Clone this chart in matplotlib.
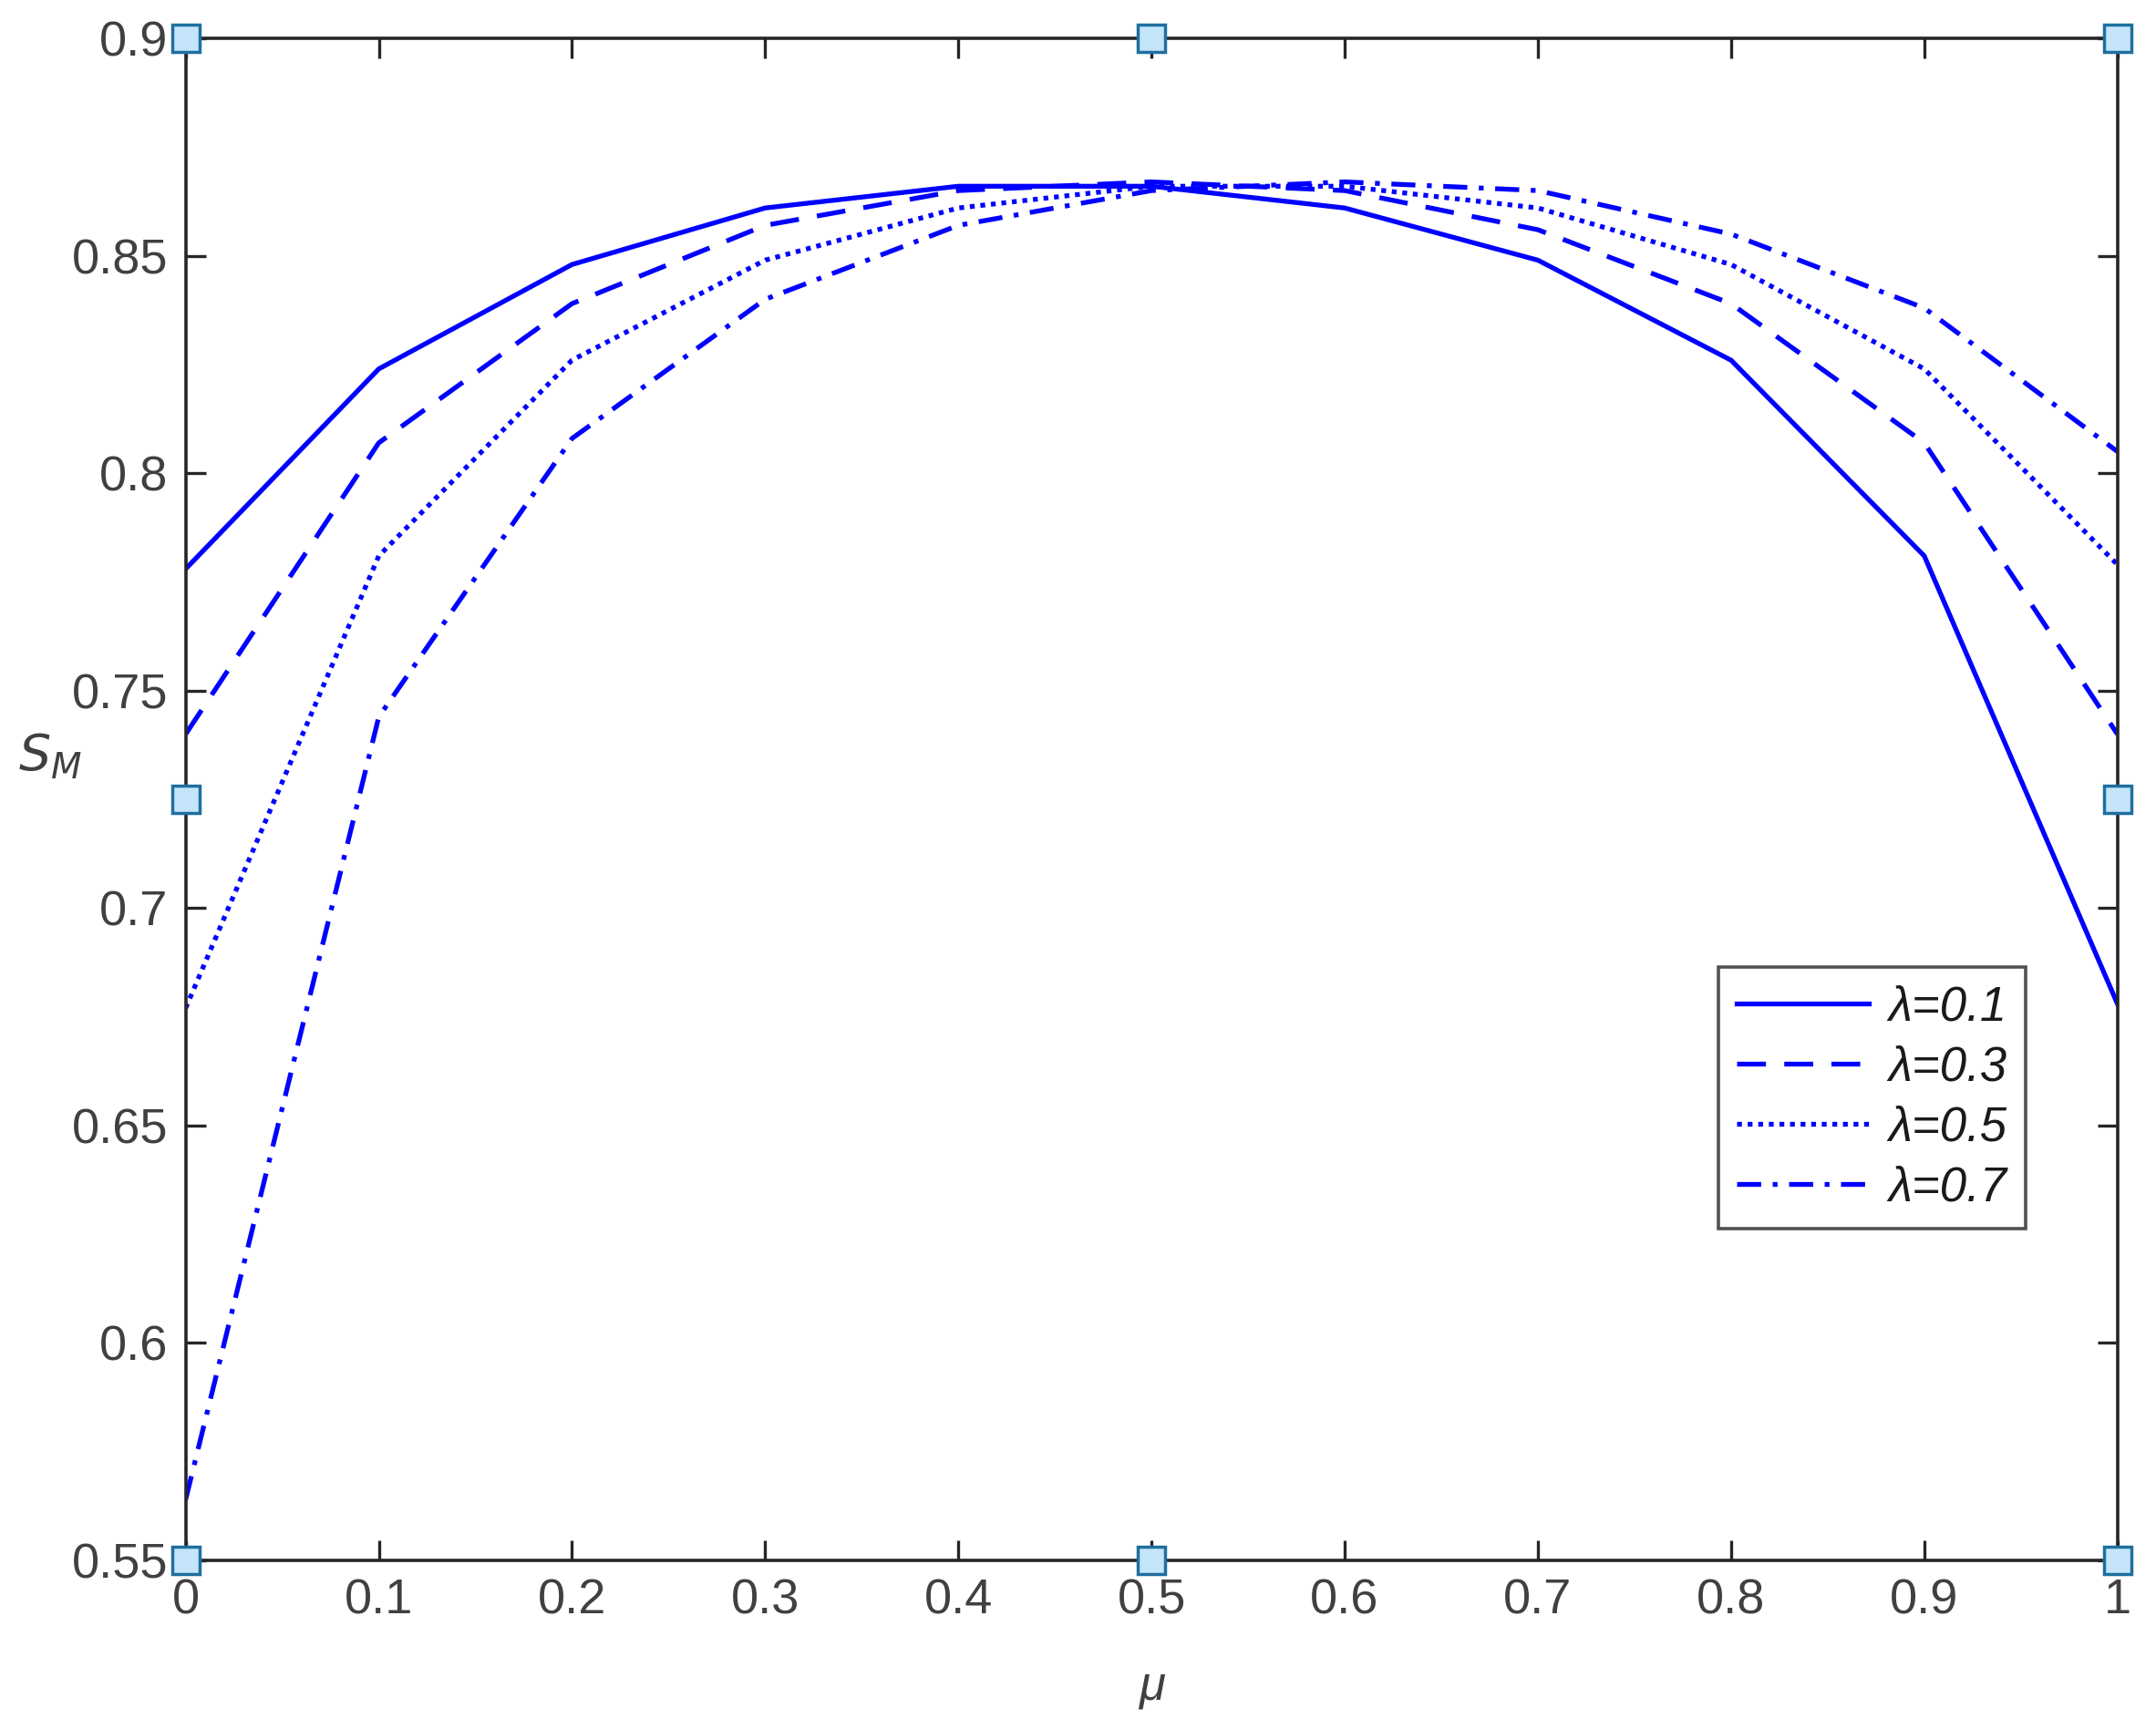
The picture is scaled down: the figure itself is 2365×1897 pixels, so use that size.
import matplotlib
matplotlib.use("Agg")
import matplotlib.pyplot as plt

mu = [0, 0.1, 0.2, 0.3, 0.4, 0.5, 0.6, 0.7, 0.8, 0.9, 1.0]
s_l01 = [0.778, 0.824, 0.848, 0.861, 0.866, 0.866, 0.861, 0.849, 0.826, 0.781, 0.678]
s_l03 = [0.740, 0.807, 0.839, 0.857, 0.865, 0.867, 0.865, 0.856, 0.839, 0.807, 0.740]
s_l05 = [0.677, 0.781, 0.826, 0.849, 0.861, 0.866, 0.866, 0.861, 0.848, 0.824, 0.779]
s_l07 = [0.564, 0.744, 0.808, 0.840, 0.857, 0.865, 0.867, 0.865, 0.855, 0.838, 0.805]
labels = ["λ=0.1", "λ=0.3", "λ=0.5", "λ=0.7"]
xticks = [0, 0.1, 0.2, 0.3, 0.4, 0.5, 0.6, 0.7, 0.8, 0.9, 1]
xticklabels = ["0", "0.1", "0.2", "0.3", "0.4", "0.5", "0.6", "0.7", "0.8", "0.9", "1"]
yticks = [0.55, 0.6, 0.65, 0.7, 0.75, 0.8, 0.85, 0.9]
yticklabels = ["0.55", "0.6", "0.65", "0.7", "0.75", "0.8", "0.85", "0.9"]
handle_x = [0, 0.5, 1, 0, 1, 0, 0.5, 1]
handle_y = [0.9, 0.9, 0.9, 0.725, 0.725, 0.55, 0.55, 0.55]

plt.rcParams['font.family'] = ['Liberation Sans', 'DejaVu Sans']

fig = plt.figure(figsize=(23.65, 18.97), dpi=100)
ax = fig.add_axes([0.0861, 0.0975, 0.8960, 0.8803])

blue = (0, 0, 1)
lw = 3.8
ax.plot(mu, s_l01, color=blue, lw=lw, linestyle='-', label=labels[0])
ax.plot(mu, s_l03, color=blue, lw=lw, linestyle=(0, (6.0, 3.8)), label=labels[1])
ax.plot(mu, s_l05, color=blue, lw=lw, linestyle=(0, (1.0, 1.2)), label=labels[2])
ax.plot(mu, s_l07, color=blue, lw=lw, linestyle=(0, (5.0, 2.4, 1.0, 2.4)), label=labels[3])

ax.set_xlim(0, 1)
ax.set_ylim(0.55, 0.9)
ax.set_xticks(xticks)
ax.set_xticklabels(xticklabels)
ax.set_yticks(yticks)
ax.set_yticklabels(yticklabels)

grey = '#262626'
tgrey = '#404040'
for sp in ax.spines.values():
    sp.set_linewidth(2.6)
    sp.set_color(grey)
ax.tick_params(direction='in', length=16, width=2.4, color=grey,
               labelsize=39, labelcolor=tgrey, top=True, right=True, pad=14)

ax.set_xlabel('μ', fontsize=38, style='italic', color=tgrey)
ax.xaxis.set_label_coords(0.5, -0.068)
ax.set_ylabel('$S_M$', fontsize=40, color=tgrey, rotation=0)
ax.yaxis.set_label_coords(-0.07, 0.512)

leg = ax.legend(loc='upper left', bbox_to_anchor=(0.7935, 0.390), borderaxespad=0,
                fontsize=38, handlelength=2.75, frameon=True, fancybox=False,
                labelspacing=0.3, borderpad=0.38, handletextpad=0.4)
leg.get_frame().set_edgecolor(grey)
leg.get_frame().set_linewidth(2.6)
for t in leg.get_texts():
    t.set_style('italic')
    t.set_color('#1a1a1a')

ax.plot(handle_x, handle_y, linestyle='none', marker='s', markersize=22,
        markerfacecolor='#c4e4fa', markeredgecolor='#1f6f9f', markeredgewidth=2.5,
        clip_on=False, zorder=10)

fig.savefig('out.png', dpi=100)
